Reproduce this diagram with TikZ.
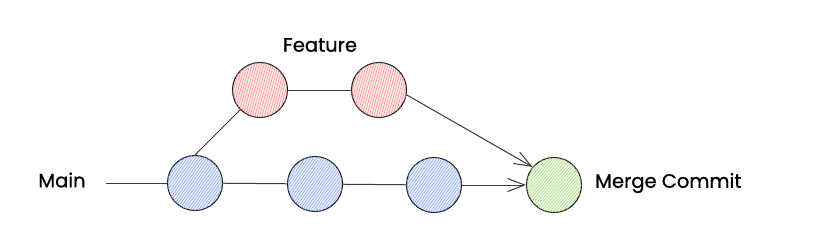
\documentclass[tikz,border=0pt]{standalone}
\usepackage{fontspec}
\setmainfont[FakeBold=0.8]{Poppins}
\usetikzlibrary{arrows.meta,patterns.meta}
\definecolor{inkc}{HTML}{1E1E1E}
\definecolor{linec}{HTML}{3A3A3A}
\definecolor{redh}{HTML}{FF8A8A}
\definecolor{redf}{HTML}{FFEBEB}
\definecolor{blueh}{HTML}{8AA5F2}
\definecolor{bluef}{HTML}{EAF0FE}
\definecolor{greenh}{HTML}{A6DA7E}
\definecolor{greenf}{HTML}{F0F9EA}
\tikzset{
  commit/.style={circle, draw=inkc, line width=1.1pt, minimum size=55pt, inner sep=0pt},
  redc/.style={commit, fill=redf, postaction={pattern={Lines[angle=75,distance=2.3pt,line width=0.55pt]}, pattern color=redh}},
  bluec/.style={commit, fill=bluef, postaction={pattern={Lines[angle=55,distance=2.3pt,line width=0.55pt]}, pattern color=blueh}},
  greenc/.style={commit, fill=greenf, postaction={pattern={Lines[angle=50,distance=2.3pt,line width=0.55pt]}, pattern color=greenh}},
  conn/.style={draw=linec, line width=1pt},
  arr/.style={conn, -{Straight Barb[length=17pt,width=13pt,line width=1pt]}},
  lbl/.style={font=\fontsize{19.5}{22}\selectfont, text=black, inner sep=0pt},
}
\begin{document}
\begin{tikzpicture}[x=1pt,y=1pt]
\useasboundingbox (0,0) rectangle (820,-241);
\node[bluec] (b1) at (195,-183) {};
\node[bluec] (b2) at (315,-184) {};
\node[bluec] (b3) at (434,-185) {};
\node[greenc] (g) at (554,-185) {};
\node[redc] (r1) at (260,-90) {};
\node[redc] (r2) at (379,-90) {};
\node[lbl] (main) at (62,-180) {Main};
\node[lbl] (feat) at (320,-45) {Feature};
\node[lbl, anchor=west] (merge) at (595,-183) {Merge Commit};
\coordinate (m0) at (106,-183);
\draw[conn] (m0) -- (b1.west);
\draw[conn] (b1) -- (b2);
\draw[conn] (b2) -- (b3);
\draw[arr] (b3) -- (g);
\draw[conn] (b1.north) -- (r1.225);
\draw[conn] (r1) -- (r2);
\draw[arr] (r2.-10) -- (g.140);
\end{tikzpicture}
\end{document}
